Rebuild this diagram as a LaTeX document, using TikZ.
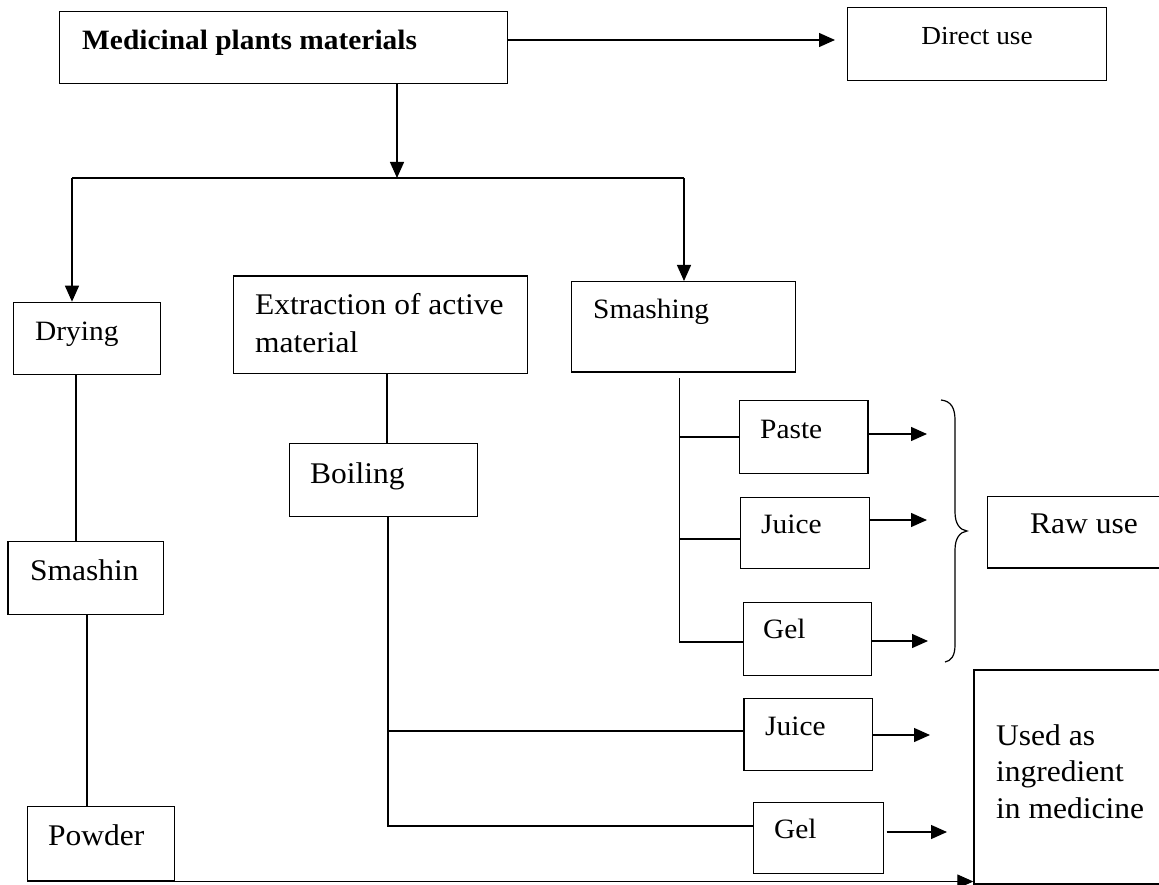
\documentclass[tikz,border=0pt]{standalone}
\usepackage{fontspec}
\setmainfont{Liberation Serif}[FakeStretch=1.05]
\usetikzlibrary{arrows.meta}

% box: name, left, top, width, height
\newcommand\mkbox[5]{\node[box, minimum width=#4pt, minimum height=#5pt] (#1) at (#2,#3) {};}

\begin{document}
\begin{tikzpicture}[x=1pt, y=-1pt,
  box/.style={draw, line width=1.3pt, inner sep=0pt, anchor=north west},
  lbl/.style={anchor=base west, inner sep=0pt, font=\fontsize{30}{36}\selectfont},
  lblsmall/.style={anchor=base west, inner sep=0pt, font=\fontsize{28}{33}\selectfont},
  link/.style={line width=1.3pt},
  arr/.style={line width=1.3pt, -{Triangle[length=16pt, width=14pt]}},
  bracepen/.style={line width=1.2pt}]

\fill[white] (0,0) rectangle (1159,885);
\useasboundingbox (0,0) rectangle (1159,885);

% ---- boxes ----
\mkbox{med}{58.7}{11}{448}{72}
\mkbox{dir}{846.7}{7}{259.3}{73}
\mkbox{dry}{12.7}{301.7}{147.3}{72.3}
\mkbox{smb}{7.3}{540.7}{155.2}{73.3}
\mkbox{pow}{26.7}{805.7}{147.3}{74.5}
\mkbox{ext}{233}{275.5}{293.7}{97.2}
\mkbox{boil}{288.7}{443}{188.3}{72.5}
\mkbox{smash}{571}{281}{224}{90.3}
\mkbox{paste}{739}{400}{128.3}{72.7}
\mkbox{juiceA}{740}{496.5}{129}{71.5}
\mkbox{gelA}{742.5}{601.7}{128.3}{73.3}
\mkbox{juiceB}{743.3}{698}{128.4}{72}
\mkbox{gelB}{753}{802}{129.7}{71}
\mkbox{raw}{987}{495.5}{190}{71.8}
\mkbox{ing}{973.3}{669.3}{200}{214}

% ---- texts ----
\node[lbl, font=\bfseries\fontsize{28}{34}\selectfont] (tmed) at (82,50) {Medicinal plants materials};
\node[anchor=base, inner sep=0pt, font=\fontsize{26}{32}\selectfont] (tdir) at (977,45) {Direct use};
\node[lbl, font=\fontsize{28}{34}\selectfont] (tdry) at (35,340) {Drying};
\node[lbl] (tsmb) at (30,580.7) {Smashin};
\node[lbl] (tpow) at (48,845) {Powder};
\node[lbl] (text1) at (255,315) {Extraction of active};
\node[lbl] (text2) at (255,352.7) {material};
\node[lbl] (tboil) at (310,483) {Boiling};
\node[lbl, font=\fontsize{28}{33}\selectfont] (tsmash) at (593,318) {Smashing};
\node[lblsmall] (tpaste) at (760,438) {Paste};
\node[lblsmall] (tjuiceA) at (761,533) {Juice};
\node[lblsmall] (tgelA) at (763,638) {Gel};
\node[lblsmall] (tjuiceB) at (765,735) {Juice};
\node[lblsmall] (tgelB) at (774,838) {Gel};
\node[lbl] (traw) at (1030,533) {Raw use};
\node[lbl] (ting1) at (996,745) {Used as};
\node[lbl] (ting2) at (996,781.7) {ingredient};
\node[lbl] (ting3) at (996,818.3) {in medicine};

% ---- junction points and free arrow ends ----
\coordinate (dirin) at (835,40);
\coordinate (split) at (397,178);
\coordinate (lsplit) at (72,178);
\coordinate (rsplit) at (684,178);
\coordinate (bj) at (388,731);
\coordinate (bg) at (388,826);
\coordinate (stop) at (679.5,378);
\coordinate (sp) at (679.5,437);
\coordinate (sj) at (679.5,539);
\coordinate (sg) at (679.5,642);
\coordinate (pastetip) at (927,434);
\coordinate (juiceAtip) at (927,520);
\coordinate (gelAtip) at (928,641);
\coordinate (juiceBtip) at (930,735);
\coordinate (gelBout) at (886.7,832);
\coordinate (gelBtip) at (947,832);

% ---- connectors ----
\draw[arr] (med.east |- dirin) -- (dirin);
\draw[arr] (med.south -| split) -- (split);
\draw[link] (lsplit) -- (rsplit);
\draw[arr] (lsplit) -- (lsplit |- dry.north);
\draw[arr] (rsplit) -- (rsplit |- smash.north);

\draw[link] (76,0 |- dry.south) -- (76,0 |- smb.north);
\draw[link] (87,0 |- smb.south) -- (87,0 |- pow.north);
\draw[arr] (pow.south east) -- (pow.south east -| ing.west);

\draw[link] (387,0 |- ext.south) -- (387,0 |- boil.north);
\draw[link] (388,0 |- boil.south) -- (bg) -- (bg -| gelB.west);
\draw[link] (bj) -- (bj -| juiceB.west);

\draw[link] (stop) -- (sg) -- (sg -| gelA.west);
\draw[link] (sp) -- (sp -| paste.west);
\draw[link] (sj) -- (sj -| juiceA.west);

\draw[arr] (paste.east |- pastetip) -- (pastetip);
\draw[arr] (juiceA.east |- juiceAtip) -- (juiceAtip);
\draw[arr] (gelA.east |- gelAtip) -- (gelAtip);
\draw[arr] (juiceB.east |- juiceBtip) -- (juiceBtip);
\draw[arr] (gelBout) -- (gelBtip);

% ---- curly brace gathering the raw products ----
\draw[bracepen] (941,400) .. controls (951,401) and (955,408) .. (955,420)
  -- (955,512) .. controls (955,524) and (960,530) .. (967,531)
  .. controls (960,532) and (955,538) .. (955,550)
  -- (955,645) .. controls (955,656) and (951,661) .. (945,662);

\end{tikzpicture}
\end{document}
